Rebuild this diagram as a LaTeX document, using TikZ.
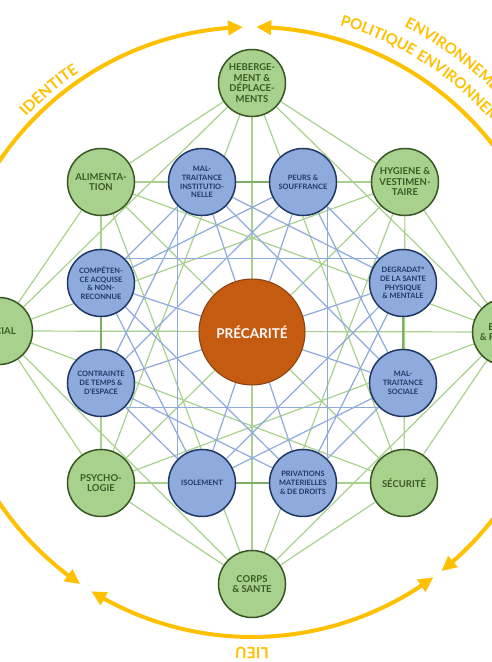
\documentclass[tikz,border=0pt]{standalone}
\usepackage{fontspec}
\setmainfont{Lato}
\usetikzlibrary{arrows.meta,bending,decorations.text,backgrounds}
\definecolor{gfill}{HTML}{A9D18E}
\definecolor{gborder}{HTML}{385723}
\definecolor{gtext}{HTML}{3A5A24}
\definecolor{bfill}{HTML}{8FAADC}
\definecolor{bborder}{HTML}{1F3864}
\definecolor{btext}{HTML}{203864}
\definecolor{cfill}{HTML}{C55A11}
\definecolor{cborder}{HTML}{8A3F0C}
\definecolor{glinec}{HTML}{A9D18E}
\definecolor{blinec}{HTML}{8FAADC}
\definecolor{dlinec}{HTML}{7DAE63}
\definecolor{yel}{HTML}{FFC000}
\begin{document}
\begin{tikzpicture}[x=1pt,y=1pt,
  gnode/.style={circle, draw=gborder, fill=gfill, line width=1.5pt, minimum size=67pt, inner sep=0pt, align=center, text=gtext, font=\bfseries\fontsize{9.5}{10.5}\selectfont},
  bnode/.style={circle, draw=bborder, fill=bfill, line width=1.5pt, minimum size=67pt, inner sep=0pt, align=center, text=btext, font=\bfseries\fontsize{7.4}{8.8}\selectfont},
  cnode/.style={circle, draw=cborder, fill=cfill, line width=1pt, minimum size=106pt, inner sep=0pt, text=white, font=\bfseries\fontsize{13.5}{16}\selectfont},
  gline/.style={draw=glinec, line width=1.2pt},
  bline/.style={draw=blinec, line width=1.2pt},
  dline/.style={draw=dlinec, line width=1.4pt},
  yarc/.style={draw=yel, line width=4pt, {Triangle[length=15pt,width=14pt,bend]}-{Triangle[length=15pt,width=14pt,bend]}},
  ytext/.style={decorate, decoration={text along path, text align=center, text={#1}}},
  ytextl/.style={decorate, decoration={text along path, text align=left, text={#1}}}
]
\useasboundingbox (0,0) rectangle (491,662);

% centre
\node[cnode] (C) at (252,330) {PRÉCARITÉ};

% green nodes
\node[gnode] (HE) at (252,579) {HEBERGE-\\MENT \&\\DÉPLACE-\\MENTS};
\node[gnode] (AL) at (101,480) {ALIMENTA-\\TION};
\node[gnode] (HY) at (405,480) {HYGIENE \&\\VESTIMEN-\\TAIRE};
\node[gnode] (SO) at (-1,331) {SOCIAL};
\node[gnode] (RI) at (506,330) {EMPLOI\\\& REVENUS};
\node[gnode] (PS) at (101,179) {PSYCHO-\\LOGIE};
\node[gnode] (SE) at (404,179) {SÉCURITÉ};
\node[gnode] (CS) at (252,78) {CORPS\\\& SANTE};

% blue nodes
\node[bnode] (MI) at (202,480) {MAL-\\TRAITANCE\\INSTITUTIO-\\NELLE};
\node[bnode] (PE) at (303,480) {PEURS \&\\SOUFFRANCE};
\node[bnode] (CO) at (101,379) {COMPÉTEN-\\CE ACQUISE\\\& NON-\\RECONNUE};
\node[bnode] (DE) at (403,379) {DEGRADAT°\\DE LA SANTE\\PHYSIQUE\\\& MENTALE};
\node[bnode] (CT) at (101,279) {CONTRAINTE\\DE TEMPS \&\\D'ESPACE};
\node[bnode] (MS) at (403,279) {MAL-\\TRAITANCE\\SOCIALE};
\node[bnode] (IS) at (202,179) {ISOLEMENT};
\node[bnode] (PR) at (303,179) {PRIVATIONS\\MATERIELLES\\\& DE DROITS};

\begin{scope}[on background layer]
  \fill[white] (0,0) rectangle (491,662);
  % green network
  \foreach \a/\b in {HE/HY, HE/RI, HE/SE, HE/CS, HE/PS, HE/SO, HE/AL,
                     HY/RI, HY/SE, HY/CS, HY/PS, HY/SO, HY/AL,
                     RI/SE, RI/CS, RI/PS, RI/SO, RI/AL,
                     SE/CS, SE/PS, SE/SO, SE/AL,
                     CS/PS, CS/SO, CS/AL,
                     PS/SO, PS/AL, SO/AL}
    \draw[gline] (\a) -- (\b);
  % blue network
  \foreach \a/\b in {PE/DE, MS/PR, IS/CT, CO/MI,
                     MI/DE, PE/MS, DE/PR, MS/IS, PR/CT, IS/CO, CT/MI, CO/PE,
                     MI/MS, DE/IS, PR/CO, CT/PE,
                     MI/PR, PE/IS, DE/CT, MS/CO}
    \draw[bline] (\a) -- (\b);
  \draw[bline] (MI.south west) -- (IS.north west);
  \draw[bline] (PE.south east) -- (PR.north east);
  \draw[bline] (CO.north east) -- (DE.north west);
  \draw[bline] (CT.south east) -- (MS.south west);
  % darker links between neighbouring blue nodes
  \foreach \a/\b in {MI/PE, DE/MS, PR/IS, CT/CO}
    \draw[dline] (\a) -- (\b);
\end{scope}

% yellow arcs
\draw[yarc] ([shift={(252,330)}]91.7:305pt) arc[start angle=91.7, end angle=235.7, radius=305pt];
\draw[yarc] ([shift={(252,330)}]89.2:305pt) arc[start angle=89.2, end angle=-51.6, radius=305pt];
\draw[yarc] ([shift={(252,330)}]238.2:305pt) arc[start angle=238.2, end angle=306.5, radius=305pt];

% arc labels
\path[ytext={|\bfseries\fontsize{15.5}{18}\selectfont\color{yel}|IDENTITE}]
  ([shift={(252,330)}]165:312pt) arc[start angle=165, end angle=95, radius=312pt];
\path[ytextl={|\bfseries\fontsize{15}{18}\selectfont\color{yel}|POLITIQUE ENVIRONNEMENTALE}]
  ([shift={(252,330)}]74:319pt) arc[start angle=74, end angle=0, radius=319pt];
\path[ytextl={|\bfseries\fontsize{15}{18}\selectfont\color{yel}|ENVIRONNEMENT}]
  ([shift={(252,330)}]63.5:341pt) arc[start angle=63.5, end angle=0, radius=341pt];
\path[ytext={|\bfseries\fontsize{15.5}{18}\selectfont\color{yel}|LIEU}]
  ([shift={(252,330)}]300:315.5pt) arc[start angle=300, end angle=240, radius=315.5pt];
\end{tikzpicture}
\end{document}
